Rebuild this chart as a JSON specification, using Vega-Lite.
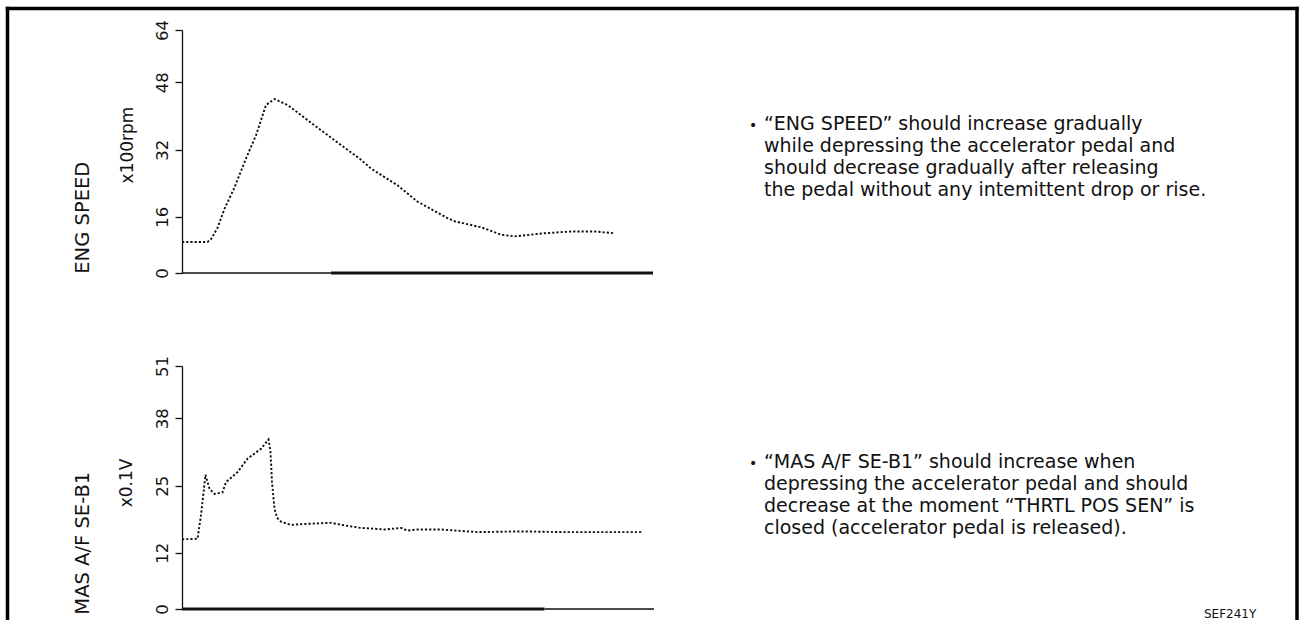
{
  "$schema": "https://vega.github.io/schema/vega-lite/v6.json",
  "background": "white",
  "padding": {"left": 5, "top": 5, "right": 0, "bottom": 0},
  "bounds": "flush",
  "spacing": 93,
  "config": {
    "view": {"stroke": null},
    "axis": {
      "grid": false,
      "domainColor": "#111",
      "tickColor": "#111",
      "labelColor": "#111",
      "titleColor": "#111",
      "labelFont": "DejaVu Sans",
      "titleFont": "DejaVu Sans",
      "labelFontSize": 16.5,
      "titleFontSize": 17,
      "titleFontWeight": "normal",
      "tickSize": 7,
      "domainWidth": 1.3,
      "tickWidth": 1.3,
      "labelPadding": 5,
      "labelAngle": 270,
      "labelAlign": "center",
      "labelBaseline": "bottom",
      "labelFlush": false,
      "labelOverlap": false,
      "titleAngle": 270,
      "titleBaseline": "bottom",
      "titleAlign": "center"
    }
  },
  "datasets": {
    "eng": [
      {"t": 0, "rpm": 8.8}, {"t": 5.1, "rpm": 8.8}, {"t": 5.8, "rpm": 9.6}, {"t": 7.1, "rpm": 12.8},
      {"t": 8.5, "rpm": 17.9}, {"t": 10.4, "rpm": 22.7}, {"t": 12.8, "rpm": 29.9}, {"t": 14.8, "rpm": 35.4},
      {"t": 16.8, "rpm": 42.6}, {"t": 18.5, "rpm": 44.0}, {"t": 21.1, "rpm": 42.6}, {"t": 23.8, "rpm": 40.2},
      {"t": 27.8, "rpm": 36.6}, {"t": 31.8, "rpm": 33.1}, {"t": 35.5, "rpm": 29.9}, {"t": 37.8, "rpm": 27.5},
      {"t": 43.1, "rpm": 23.5}, {"t": 47.1, "rpm": 19.6}, {"t": 53.1, "rpm": 15.6}, {"t": 54.5, "rpm": 14.7},
      {"t": 59.8, "rpm": 13.0}, {"t": 63.8, "rpm": 10.9}, {"t": 66.5, "rpm": 10.4}, {"t": 69.8, "rpm": 10.9},
      {"t": 72.5, "rpm": 11.3}, {"t": 77.8, "rpm": 11.8}, {"t": 82.5, "rpm": 11.8}, {"t": 86.5, "rpm": 11.3}
    ],
    "maf": [
      {"t": 0, "v": 14.6}, {"t": 3.1, "v": 14.7}, {"t": 3.8, "v": 19.3}, {"t": 4.7, "v": 27.1},
      {"t": 5.5, "v": 24.4}, {"t": 6.5, "v": 23.4}, {"t": 8.1, "v": 23.7}, {"t": 8.8, "v": 25.7},
      {"t": 11.1, "v": 27.6}, {"t": 13.1, "v": 30.2}, {"t": 15.8, "v": 32.1}, {"t": 17.3, "v": 33.9},
      {"t": 17.7, "v": 31.5}, {"t": 18.0, "v": 25.7}, {"t": 18.5, "v": 20.5}, {"t": 19.0, "v": 18.8},
      {"t": 19.8, "v": 18.0}, {"t": 21.8, "v": 17.4}, {"t": 25.1, "v": 17.6}, {"t": 29.8, "v": 17.8},
      {"t": 33.1, "v": 17.2}, {"t": 35.8, "v": 16.8}, {"t": 37.8, "v": 16.7}, {"t": 40.5, "v": 16.5},
      {"t": 43.8, "v": 16.8}, {"t": 45.1, "v": 16.3}, {"t": 47.1, "v": 16.5}, {"t": 51.8, "v": 16.5},
      {"t": 59.1, "v": 16.0}, {"t": 65.8, "v": 16.1}, {"t": 69.8, "v": 16.1}, {"t": 76.5, "v": 16.0},
      {"t": 92.1, "v": 16.0}
    ]
  },
  "vconcat": [
    {
      "width": 1100,
      "height": 243,
      "layer": [
        {
          "data": {"values": [{}]},
          "mark": {"type": "rule", "strokeWidth": 3.5, "color": "#000", "strokeCap": "square"},
          "encoding": {
            "x": {"datum": -34.9, "type": "quantitative", "scale": {"domain": [0, 220], "nice": false, "zero": false}, "axis": null},
            "x2": {"datum": 223},
            "y": {"datum": 70.6, "type": "quantitative", "scale": {"type": "linear", "domain": [0, 16, 32, 48, 64], "range": [243, 186.7, 119.7, 52.2, 0], "nice": false, "zero": false}}
          }
        },
        {
          "data": {"values": [{}]},
          "mark": {"type": "rule", "strokeWidth": 3.5, "color": "#000", "strokeCap": "square"},
          "encoding": {
            "x": {"datum": -34.9, "type": "quantitative", "scale": {"domain": [0, 220], "nice": false, "zero": false}, "axis": null},
            "y": {"datum": 70.6, "type": "quantitative", "scale": {"type": "linear", "domain": [0, 16, 32, 48, 64], "range": [243, 186.7, 119.7, 52.2, 0], "nice": false, "zero": false}},
            "y2": {"datum": -98.3}
          }
        },
        {
          "data": {"values": [{}]},
          "mark": {"type": "rule", "strokeWidth": 3.5, "color": "#000", "strokeCap": "square"},
          "encoding": {
            "x": {"datum": 223, "type": "quantitative", "scale": {"domain": [0, 220], "nice": false, "zero": false}, "axis": null},
            "y": {"datum": 70.6, "type": "quantitative", "scale": {"type": "linear", "domain": [0, 16, 32, 48, 64], "range": [243, 186.7, 119.7, 52.2, 0], "nice": false, "zero": false}},
            "y2": {"datum": -98.3}
          }
        },
        {
          "data": {"values": [{}]},
          "mark": {"type": "rule", "strokeWidth": 1.3, "color": "#111"},
          "encoding": {
            "x": {"datum": 0, "type": "quantitative", "scale": {"domain": [0, 220], "nice": false, "zero": false}, "axis": null},
            "x2": {"datum": 94.2},
            "y": {"datum": 0, "type": "quantitative", "scale": {"type": "linear", "domain": [0, 16, 32, 48, 64], "range": [243, 186.7, 119.7, 52.2, 0], "nice": false, "zero": false}}
          }
        },
        {
          "data": {"values": [{}]},
          "mark": {"type": "rule", "strokeWidth": 3, "color": "#111"},
          "encoding": {
            "x": {"datum": 29.8, "type": "quantitative", "scale": {"domain": [0, 220], "nice": false, "zero": false}, "axis": null},
            "x2": {"datum": 94.2},
            "y": {"datum": 0, "type": "quantitative", "scale": {"type": "linear", "domain": [0, 16, 32, 48, 64], "range": [243, 186.7, 119.7, 52.2, 0], "nice": false, "zero": false}}
          }
        },
        {
          "data": {"name": "eng"},
          "mark": {"type": "line", "strokeDash": [2.2, 2], "strokeWidth": 1.9, "color": "#111"},
          "encoding": {
            "x": {"field": "t", "type": "quantitative", "scale": {"domain": [0, 220], "nice": false, "zero": false}, "axis": null},
            "y": {
              "field": "rpm", "type": "quantitative",
              "scale": {"type": "linear", "domain": [0, 16, 32, 48, 64], "range": [243, 186.7, 119.7, 52.2, 0], "nice": false, "zero": false},
              "axis": {"values": [0, 16, 32, 48, 64], "title": "x100rpm", "titleX": -46, "titleY": 114.5}
            }
          }
        },
        {
          "data": {"values": [{"label": "ENG SPEED"}]},
          "mark": {"type": "text", "angle": 270, "align": "left", "baseline": "middle", "font": "DejaVu Sans", "fontSize": 19.5, "color": "#111"},
          "encoding": {
            "x": {"datum": -19.9, "type": "quantitative", "scale": {"domain": [0, 220], "nice": false, "zero": false}, "axis": null},
            "y": {"datum": -0.2, "type": "quantitative", "scale": {"type": "linear", "domain": [0, 16, 32, 48, 64], "range": [243, 186.7, 119.7, 52.2, 0], "nice": false, "zero": false}},
            "text": {"field": "label"}
          }
        },
        {
          "data": {"values": [{"b": "•"}]},
          "mark": {"type": "text", "align": "center", "baseline": "alphabetic", "font": "DejaVu Sans", "fontSize": 14, "color": "#111"},
          "encoding": {
            "x": {"datum": 114.2, "type": "quantitative", "scale": {"domain": [0, 220], "nice": false, "zero": false}, "axis": null},
            "y": {"datum": 36.7, "type": "quantitative", "scale": {"type": "linear", "domain": [0, 16, 32, 48, 64], "range": [243, 186.7, 119.7, 52.2, 0], "nice": false, "zero": false}},
            "text": {"field": "b"}
          }
        },
        {
          "data": {"values": [{"note": "“ENG SPEED” should increase gradually\nwhile depressing the accelerator pedal and\nshould decrease gradually after releasing\nthe pedal without any intemittent drop or rise."}]},
          "mark": {"type": "text", "align": "left", "baseline": "alphabetic", "lineBreak": "\n", "lineHeight": 22, "font": "DejaVu Sans", "fontSize": 19, "color": "#111"},
          "encoding": {
            "x": {"datum": 116.4, "type": "quantitative", "scale": {"domain": [0, 220], "nice": false, "zero": false}, "axis": null},
            "y": {"datum": 36.7, "type": "quantitative", "scale": {"type": "linear", "domain": [0, 16, 32, 48, 64], "range": [243, 186.7, 119.7, 52.2, 0], "nice": false, "zero": false}},
            "text": {"field": "note"}
          }
        }
      ]
    },
    {
      "width": 1100,
      "height": 243,
      "layer": [
        {
          "data": {"values": [{}]},
          "mark": {"type": "rule", "strokeWidth": 3, "color": "#111"},
          "encoding": {
            "x": {"datum": 0, "type": "quantitative", "scale": {"domain": [0, 220], "nice": false, "zero": false}, "axis": null},
            "x2": {"datum": 72.5},
            "y": {"datum": 0, "type": "quantitative", "scale": {"type": "linear", "domain": [0, 12, 25, 38, 51], "range": [243, 186.7, 119.7, 52.2, 0], "nice": false, "zero": false}}
          }
        },
        {
          "data": {"values": [{}]},
          "mark": {"type": "rule", "strokeWidth": 1.3, "color": "#111"},
          "encoding": {
            "x": {"datum": 72.5, "type": "quantitative", "scale": {"domain": [0, 220], "nice": false, "zero": false}, "axis": null},
            "x2": {"datum": 94.4},
            "y": {"datum": 0, "type": "quantitative", "scale": {"type": "linear", "domain": [0, 12, 25, 38, 51], "range": [243, 186.7, 119.7, 52.2, 0], "nice": false, "zero": false}}
          }
        },
        {
          "data": {"name": "maf"},
          "mark": {"type": "line", "strokeDash": [2.2, 2], "strokeWidth": 1.9, "color": "#111"},
          "encoding": {
            "x": {"field": "t", "type": "quantitative", "scale": {"domain": [0, 220], "nice": false, "zero": false}, "axis": null},
            "y": {
              "field": "v", "type": "quantitative",
              "scale": {"type": "linear", "domain": [0, 12, 25, 38, 51], "range": [243, 186.7, 119.7, 52.2, 0], "nice": false, "zero": false},
              "axis": {"values": [0, 12, 25, 38, 51], "title": "x0.1V", "titleX": -47, "titleY": 116.5}
            }
          }
        },
        {
          "data": {"values": [{"label": "MAS A/F SE-B1"}]},
          "mark": {"type": "text", "angle": 270, "align": "left", "baseline": "middle", "font": "DejaVu Sans", "fontSize": 19.5, "color": "#111"},
          "encoding": {
            "x": {"datum": -19.9, "type": "quantitative", "scale": {"domain": [0, 220], "nice": false, "zero": false}, "axis": null},
            "y": {"datum": -1.2, "type": "quantitative", "scale": {"type": "linear", "domain": [0, 12, 25, 38, 51], "range": [243, 186.7, 119.7, 52.2, 0], "nice": false, "zero": false}},
            "text": {"field": "label"}
          }
        },
        {
          "data": {"values": [{"b": "•"}]},
          "mark": {"type": "text", "align": "center", "baseline": "alphabetic", "font": "DejaVu Sans", "fontSize": 14, "color": "#111"},
          "encoding": {
            "x": {"datum": 114.2, "type": "quantitative", "scale": {"domain": [0, 220], "nice": false, "zero": false}, "axis": null},
            "y": {"datum": 28.4, "type": "quantitative", "scale": {"type": "linear", "domain": [0, 12, 25, 38, 51], "range": [243, 186.7, 119.7, 52.2, 0], "nice": false, "zero": false}},
            "text": {"field": "b"}
          }
        },
        {
          "data": {"values": [{"note": "“MAS A/F SE-B1” should increase when\ndepressing the accelerator pedal and  should\ndecrease at the moment “THRTL POS SEN” is\nclosed (accelerator pedal is released)."}]},
          "mark": {"type": "text", "align": "left", "baseline": "alphabetic", "lineBreak": "\n", "lineHeight": 22, "font": "DejaVu Sans", "fontSize": 19, "color": "#111"},
          "encoding": {
            "x": {"datum": 116.4, "type": "quantitative", "scale": {"domain": [0, 220], "nice": false, "zero": false}, "axis": null},
            "y": {"datum": 28.4, "type": "quantitative", "scale": {"type": "linear", "domain": [0, 12, 25, 38, 51], "range": [243, 186.7, 119.7, 52.2, 0], "nice": false, "zero": false}},
            "text": {"field": "note"}
          }
        },
        {
          "data": {"values": [{"code": "SEF241Y"}]},
          "mark": {"type": "text", "align": "left", "baseline": "alphabetic", "font": "DejaVu Sans", "fontSize": 12, "color": "#111"},
          "encoding": {
            "x": {"datum": 204.4, "type": "quantitative", "scale": {"domain": [0, 220], "nice": false, "zero": false}, "axis": null},
            "y": {"datum": -2.0, "type": "quantitative", "scale": {"type": "linear", "domain": [0, 12, 25, 38, 51], "range": [243, 186.7, 119.7, 52.2, 0], "nice": false, "zero": false}},
            "text": {"field": "code"}
          }
        }
      ]
    }
  ]
}
